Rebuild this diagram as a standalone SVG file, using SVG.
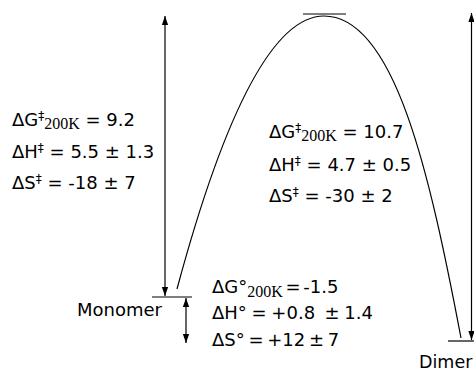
<svg xmlns="http://www.w3.org/2000/svg" width="474" height="371" viewBox="0 0 474 371">
<style>
.t{font-family:"DejaVu Sans","Liberation Sans",sans-serif;font-size:18px;fill:#000;white-space:pre}
.sub{font-family:"Liberation Serif","Times New Roman",serif;font-size:16px}
.sup{font-size:12px}
.ln{stroke:#000;stroke-width:1.2;fill:none}
</style>
<defs>
<marker id="ah" viewBox="0 0 10 10" refX="10" refY="5" markerWidth="9" markerHeight="9" markerUnits="userSpaceOnUse" orient="auto-start-reverse">
<path d="M0,1.5 L10,5 L0,8.5 Z" fill="#000"/>
</marker>
</defs>
<g id="connectors">
<path class="ln" d="M177,289 Q250.5,16 324,16 C395,16 430,175 461,338"/>
<line class="ln" x1="165" y1="296" x2="165" y2="16" marker-start="url(#ah)" marker-end="url(#ah)"/>
<line class="ln" x1="471.5" y1="340" x2="471.5" y2="13" marker-start="url(#ah)" marker-end="url(#ah)"/>
<line class="ln" x1="186" y1="298" x2="186" y2="343" marker-start="url(#ah)" marker-end="url(#ah)"/>
</g>
<g id="transition-state">
<line class="ln" x1="303" y1="14" x2="346" y2="14"/>
</g>
<g id="monomer">
<line class="ln" x1="152" y1="297" x2="192" y2="297"/>
<text class="t" x="77" y="316">Monomer</text>
</g>
<g id="dimer">
<line class="ln" x1="448" y1="341" x2="474" y2="341"/>
<text class="t" x="419" y="368" style="font-size:17.5px">Dimer</text>
</g>
<g id="label-left">
<text class="t" x="12" y="126">ΔG<tspan class="sup" dy="-6">‡</tspan><tspan class="sub" dy="9">200K</tspan><tspan dy="-3"> = 9.2</tspan></text>
<text class="t" x="12" y="158">ΔH<tspan class="sup" dy="-6">‡</tspan><tspan dy="6"> = 5.5 ± 1.3</tspan></text>
<text class="t" x="12" y="189">ΔS<tspan class="sup" dy="-6">‡</tspan><tspan dy="6"> = -18 ± 7</tspan></text>
</g>
<g id="label-middle">
<text class="t" x="269" y="138">ΔG<tspan class="sup" dy="-6">‡</tspan><tspan class="sub" dy="9">200K</tspan><tspan dy="-3"> = 10.7</tspan></text>
<text class="t" x="269" y="171">ΔH<tspan class="sup" dy="-6">‡</tspan><tspan dy="6"> = 4.7 ± 0.5</tspan></text>
<text class="t" x="269" y="202">ΔS<tspan class="sup" dy="-6">‡</tspan><tspan dy="6"> = -30 ± 2</tspan></text>
</g>
<g id="label-bottom">
<text class="t" x="212" y="293" style="word-spacing:-3px">ΔG°<tspan class="sub" dy="4">200K</tspan><tspan dy="-4"> = -1.5</tspan></text>
<text class="t" x="212" y="319" style="word-spacing:-1px">ΔH° = +0.8  ± 1.4</text>
<text class="t" x="212" y="346" style="word-spacing:-2px">ΔS° = +12 ± 7</text>
</g>
</svg>
